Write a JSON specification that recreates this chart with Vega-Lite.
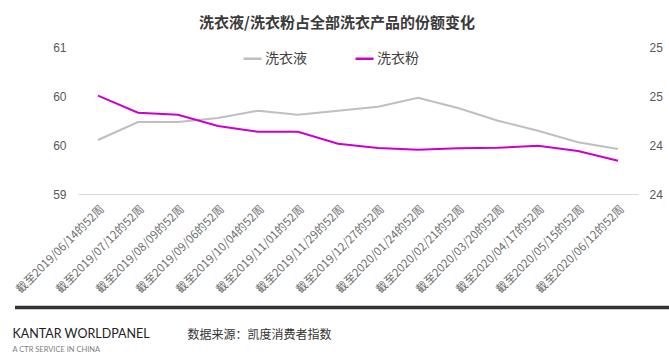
{
  "$schema": "https://vega.github.io/schema/vega-lite/v6.json",
  "width": 654,
  "height": 147,
  "autosize": {"type": "none"},
  "padding": {"left": 15, "top": 47, "right": 0, "bottom": 165},
  "background": "white",
  "title": {
    "text": "洗衣液/洗衣粉占全部洗衣产品的份额变化",
    "font": "Noto Sans CJK SC",
    "fontSize": 15,
    "fontWeight": "bold",
    "color": "#3a3a3a",
    "anchor": "middle",
    "dx": -5,
    "offset": 10
  },
  "config": {
    "view": {"stroke": null},
    "font": "Noto Sans CJK SC"
  },
  "data": {
    "values": [
      {"week": "截至2019/06/14的52周", "liquid": 59.551, "powder": 24.602},
      {"week": "截至2019/07/12的52周", "liquid": 59.735, "powder": 24.498},
      {"week": "截至2019/08/09的52周", "liquid": 59.735, "powder": 24.485},
      {"week": "截至2019/09/06的52周", "liquid": 59.776, "powder": 24.416},
      {"week": "截至2019/10/04的52周", "liquid": 59.85, "powder": 24.381},
      {"week": "截至2019/11/01的52周", "liquid": 59.809, "powder": 24.381},
      {"week": "截至2019/11/29的52周", "liquid": 59.85, "powder": 24.308},
      {"week": "截至2019/12/27的52周", "liquid": 59.891, "powder": 24.282},
      {"week": "截至2020/01/24的52周", "liquid": 59.983, "powder": 24.271},
      {"week": "截至2020/02/21的52周", "liquid": 59.878, "powder": 24.28},
      {"week": "截至2020/03/20的52周", "liquid": 59.748, "powder": 24.283},
      {"week": "截至2020/04/17的52周", "liquid": 59.646, "powder": 24.296},
      {"week": "截至2020/05/15的52周", "liquid": 59.528, "powder": 24.263},
      {"week": "截至2020/06/12的52周", "liquid": 59.459, "powder": 24.204}
    ]
  },
  "layer": [
    {
      "layer": [
        {
          "mark": {"type": "line", "strokeWidth": 2},
          "encoding": {
            "x": {
              "field": "week",
              "type": "ordinal",
              "sort": null,
              "scale": {"type": "point", "range": [63, 623], "padding": 0.5},
              "axis": {
                "labelAngle": -45,
                "labelFontSize": 11.5,
                "labelColor": "#6e6e6e",
                "labelPadding": 9,
                "ticks": false,
                "domain": true,
                "domainColor": "#d9d9d9",
                "domainWidth": 1,
                "grid": false,
                "title": "数据来源：凯度消费者指数",
                "titleFont": "Noto Sans CJK SC",
                "titleFontSize": 12,
                "titleFontWeight": "normal",
                "titleColor": "#333333",
                "titleX": 172,
                "titleY": 140,
                "titleAlign": "left",
                "titleBaseline": "middle",
                "titleAngle": 0
              }
            },
            "y": {
              "field": "liquid",
              "type": "quantitative",
              "scale": {"domain": [59, 60.5], "zero": false, "nice": false},
              "axis": {
                "values": [59, 59.5, 60, 60.5],
                "format": ".0f",
                "grid": false,
                "domain": false,
                "ticks": false,
                "offset": -63,
                "labelPadding": 12,
                "labelFontSize": 12,
                "labelColor": "#595959",
                "labelFont": "Liberation Sans",
                "title": "KANTAR WORLDPANEL",
                "titleFont": "Lato",
                "titleFontSize": 12.5,
                "titleFontWeight": "normal",
                "titleColor": "#222222",
                "titleAngle": 0,
                "titleX": -66,
                "titleY": 286,
                "titleAlign": "left",
                "titleBaseline": "middle"
              }
            },
            "color": {
              "datum": "洗衣液",
              "type": "nominal",
              "scale": {"domain": ["洗衣液", "洗衣粉"], "range": ["#bfbfbf", "#cc00cc"]},
              "legend": {
                "orient": "none",
                "legendX": 227,
                "legendY": 1,
                "direction": "horizontal",
                "title": null,
                "symbolType": "stroke",
                "symbolSize": 324,
                "symbolStrokeWidth": 2.5,
                "labelFontSize": 14,
                "labelColor": "#404040",
                "labelFont": "Noto Sans CJK SC",
                "labelOffset": 2,
                "columnPadding": 43,
                "padding": 0
              }
            }
          }
        },
        {
          "data": {"values": [{}]},
          "mark": {"type": "rule", "strokeWidth": 3.5, "color": "#333333", "clip": false},
          "encoding": {
            "y": {"datum": 57.842, "type": "quantitative"}
          }
        }
      ]
    },
    {
      "mark": {"type": "line", "strokeWidth": 2},
      "encoding": {
        "x": {
          "field": "week",
          "type": "ordinal",
          "sort": null,
          "scale": {"type": "point", "range": [63, 623], "padding": 0.5},
          "axis": {
            "labelAngle": -45,
            "labelFontSize": 11.5,
            "labelColor": "#6e6e6e",
            "labelPadding": 9,
            "ticks": false,
            "domain": true,
            "domainColor": "#d9d9d9",
            "domainWidth": 1,
            "grid": false,
            "title": "数据来源：凯度消费者指数",
            "titleFont": "Noto Sans CJK SC",
            "titleFontSize": 12,
            "titleFontWeight": "normal",
            "titleColor": "#333333",
            "titleX": 172,
            "titleY": 140,
            "titleAlign": "left",
            "titleBaseline": "middle",
            "titleAngle": 0
          }
        },
        "y": {
          "field": "powder",
          "type": "quantitative",
          "scale": {"domain": [24, 24.9], "zero": false, "nice": false},
          "axis": {
            "orient": "right",
            "values": [24, 24.3, 24.6, 24.9],
            "format": ".0f",
            "grid": false,
            "domain": false,
            "ticks": false,
            "offset": -31,
            "labelPadding": 11,
            "labelFontSize": 12,
            "labelColor": "#595959",
            "labelFont": "Liberation Sans",
            "title": "A CTR SERVICE IN CHINA",
            "titleFont": "Lato",
            "titleFontSize": 7.5,
            "titleFontWeight": "normal",
            "titleColor": "#808080",
            "titleAngle": 0,
            "titleX": -626,
            "titleY": 302,
            "titleAlign": "left",
            "titleBaseline": "middle"
          }
        },
        "color": {"datum": "洗衣粉", "type": "nominal"}
      }
    }
  ],
  "resolve": {"scale": {"y": "independent"}}
}
